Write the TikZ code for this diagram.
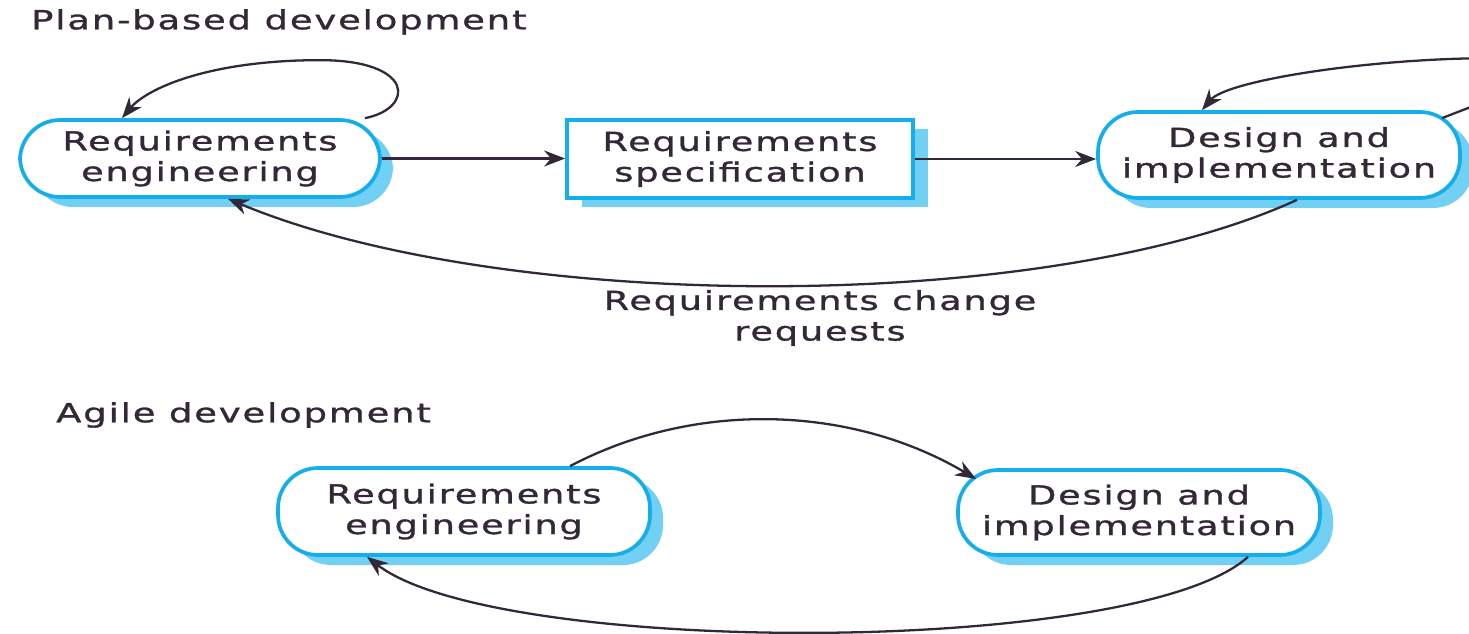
\documentclass[tikz,border=0pt]{standalone}
\usepackage{fontspec}
\setmainfont{DejaVu Sans}[FakeStretch=1.4, LetterSpace=7, FakeBold=1.2]
\usetikzlibrary{positioning,calc,shadows,arrows.meta}
\definecolor{boxblue}{RGB}{20,175,235}
\definecolor{shadeblue}{RGB}{115,208,245}
\definecolor{inkdark}{RGB}{50,40,55}

\begin{document}
\begin{tikzpicture}[
					activity/.style={
						draw=boxblue, fill=white, line width=2.1pt,
						rounded corners=0.8cm, text=inkdark, align=center,
						font=\fontsize{14.9}{17.4}\selectfont,
						drop shadow={shadow xshift=0.26cm, shadow yshift=-0.2cm, fill=shadeblue, opacity=1}
					},
					document/.style={
						draw=boxblue, fill=white, line width=2.1pt,
						text=inkdark, align=center,
						font=\fontsize{14.9}{17.4}\selectfont,
						drop shadow={shadow xshift=0.3cm, shadow yshift=-0.18cm, fill=shadeblue, opacity=1}
					},
					flow/.style={draw=inkdark, line width=1.3pt, -{Stealth[length=4.2mm,width=3.2mm]}},
					heading/.style={anchor=west, text=inkdark, font=\fontsize{15}{17.4}\selectfont}
					]
					\useasboundingbox (0,0) rectangle (29.38,-12.68);
					
					% plan-based
					\node[heading] (plantitle) at (0.5,-0.44) {Plan-based development};
					\node[activity, minimum width=7.2cm, minimum height=1.54cm] (re1) at (4.0,-3.17) {Requirements\\engineering};
					\node[document, minimum width=6.92cm, minimum height=1.56cm] (spec) at (14.8,-3.18) {Requirements\\specification};
					\node[activity, minimum width=7.24cm, minimum height=1.72cm] (des1) at (25.58,-3.1) {Design and\\implementation};
					\node[text=inkdark, align=center, font=\fontsize{14.9}{17.4}\selectfont] (change) at (16.4,-6.36) {Requirements change\\requests};
					
					\draw[flow] (re1.east) -- (re1.east -| spec.west);
					\draw[flow] (spec.east) -- (spec.east -| des1.west);
					\draw[flow] ([xshift=3.3cm]re1.north) .. controls +(1.0,0.2) and +(1.9,0) .. ++(-0.9,1.16)
						.. controls +(-2.2,0) and +(0.5,0.6) .. ([xshift=-1.56cm]re1.north);
					\draw[flow] ([xshift=3.26cm,yshift=-0.16cm]des1.north) .. controls +(1.0,0.4) and +(2.4,0) .. ++(1.0,1.2)
						.. controls +(-2.4,0) and +(0.5,0.6) .. ([xshift=-1.54cm]des1.north);
					\draw[flow] ([xshift=0.36cm]des1.south) .. controls +(-5,-2.3) and +(5.5,-2.3) .. ([xshift=0.56cm]re1.south);
					
					% agile
					\node[heading] (agiletitle) at (1.0,-8.3) {Agile development};
					\node[activity, minimum width=7.44cm, minimum height=1.74cm] (re2) at (9.28,-10.23) {Requirements\\engineering};
					\node[activity, minimum width=7.24cm, minimum height=1.7cm] (des2) at (22.78,-10.25) {Design and\\implementation};
					
					\draw[flow] ([xshift=2.12cm]re2.north) .. controls +(2.5,1.32) and +(-2.5,1.48) .. ([shift={(0.4,0.67)}]des2.west);
					\draw[flow] ([xshift=2.18cm]des2.south) .. controls +(-2.2,-2) and +(2.6,-2) .. ([xshift=-1.94cm]re2.south);
				\end{tikzpicture}
\end{document}
